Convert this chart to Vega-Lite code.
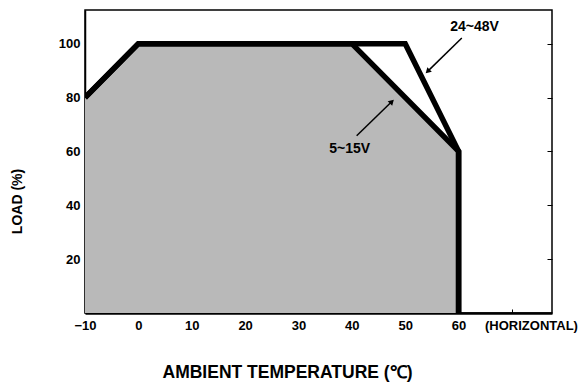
{
  "$schema": "https://vega.github.io/schema/vega-lite/v6.json",
  "width": 467,
  "height": 303,
  "autosize": {"type": "none"},
  "padding": {"left": 85, "top": 10, "right": 27, "bottom": 74},
  "background": "white",
  "config": {
    "view": {"stroke": "black", "strokeWidth": 1.5},
    "font": "Liberation Sans"
  },
  "datasets": {
    "curves": [
      {"series": "24~48V", "ord": 1, "t": -10, "load": 80},
      {"series": "24~48V", "ord": 2, "t": 0, "load": 100},
      {"series": "24~48V", "ord": 3, "t": 50, "load": 100},
      {"series": "24~48V", "ord": 4, "t": 60, "load": 60},
      {"series": "24~48V", "ord": 5, "t": 60, "load": 0},
      {"series": "5~15V", "ord": 1, "t": -10, "load": 80},
      {"series": "5~15V", "ord": 2, "t": 0, "load": 100},
      {"series": "5~15V", "ord": 3, "t": 40, "load": 100},
      {"series": "5~15V", "ord": 4, "t": 60, "load": 60},
      {"series": "5~15V", "ord": 5, "t": 60, "load": 0}
    ],
    "labels": [
      {"text": "24~48V", "t": 63.0, "load": 106.2},
      {"text": "5~15V", "t": 39.6, "load": 60.9}
    ],
    "arrows": [
      {"series": "24~48V", "t": 60.6, "load": 102.1, "t2": 54.2, "load2": 89.7},
      {"series": "5~15V", "t": 40.9, "load": 65.8, "t2": 47.5, "load2": 78.5}
    ]
  },
  "resolve": {"axis": {"x": "independent", "y": "independent"}},
  "layer": [
    {
      "data": {"name": "curves"},
      "transform": [{"filter": "datum.series == '5~15V' && datum.ord <= 4"}],
      "mark": {"type": "area", "color": "#b9b9b9", "clip": true},
      "encoding": {
        "x": {
          "field": "t", "type": "quantitative",
          "scale": {"domain": [-10, 77.5], "nice": false, "zero": false},
          "axis": {
            "values": [-10, 0, 10, 20, 30, 40, 50, 60, 70],
            "labelExpr": "datum.value == 70 ? '(HORIZONTAL)' : datum.label",
            "labelFont": "Liberation Sans", "labelFontWeight": "bold", "labelFontSize": 13, "labelColor": "black",
            "labelPadding": 6,
            "labelOffset": {"condition": {"test": "datum.value == 70", "value": 19}, "value": 0},
            "ticks": false,
            "labelOverlap": false,
            "labelFlush": false,
            "domainColor": "black", "domainWidth": 2.5,
            "grid": false,
            "title": "AMBIENT TEMPERATURE (\u2103)",
            "titleFont": "Liberation Sans", "titleFontSize": 17.5, "titleFontWeight": "bold", "titleColor": "black",
            "titleX": 202, "titleY": 59, "titleBaseline": "middle", "titleAlign": "center"
          }
        },
        "y": {
          "field": "load", "type": "quantitative",
          "scale": {"domain": [0, 112.5], "nice": false},
          "axis": {
            "values": [20, 40, 60, 80, 100],
            "labelFont": "Liberation Sans", "labelFontWeight": "bold", "labelFontSize": 13, "labelColor": "black",
            "labelPadding": 5,
            "ticks": false,
            "domainColor": "black", "domainWidth": 1.5,
            "grid": false,
            "title": "LOAD (%)",
            "titleFont": "Liberation Sans", "titleFontSize": 14, "titleFontWeight": "bold", "titleColor": "black",
            "titleAngle": 270, "titleX": -68, "titleY": 191, "titleBaseline": "middle", "titleAlign": "center"
          }
        }
      }
    },
    {
      "data": {"name": "curves"},
      "mark": {"type": "line", "color": "black", "strokeWidth": 5.5, "strokeJoin": "miter", "clip": true},
      "encoding": {
        "x": {"field": "t", "type": "quantitative",
          "axis": {"orient": "bottom", "values": [0, 10, 20, 30, 40, 50, 70], "labels": false, "domain": false, "grid": false, "title": null, "tickSize": -4, "tickColor": "black", "tickWidth": 1}},
        "y": {"field": "load", "type": "quantitative",
          "axis": {"orient": "right", "values": [20, 40, 60, 80, 100], "labels": false, "domain": false, "grid": false, "title": null, "tickSize": -5, "tickColor": "black", "tickWidth": 1}},
        "detail": {"field": "series"},
        "order": {"field": "ord"}
      }
    },
    {
      "data": {"name": "arrows"},
      "mark": {"type": "rule", "color": "black", "strokeWidth": 1.5},
      "encoding": {
        "x": {"field": "t", "type": "quantitative", "axis": null},
        "y": {"field": "load", "type": "quantitative", "axis": null},
        "x2": {"field": "t2"},
        "y2": {"field": "load2"}
      }
    },
    {
      "data": {"name": "arrows"},
      "transform": [{"filter": "datum.series == '24~48V'"}],
      "mark": {"type": "point", "shape": "triangle-up", "filled": true, "color": "black", "size": 40, "angle": 225, "opacity": 1},
      "encoding": {
        "x": {"field": "t2", "type": "quantitative", "axis": null},
        "y": {"field": "load2", "type": "quantitative", "axis": null}
      }
    },
    {
      "data": {"name": "arrows"},
      "transform": [{"filter": "datum.series == '5~15V'"}],
      "mark": {"type": "point", "shape": "triangle-up", "filled": true, "color": "black", "size": 40, "angle": 45, "opacity": 1},
      "encoding": {
        "x": {"field": "t2", "type": "quantitative", "axis": null},
        "y": {"field": "load2", "type": "quantitative", "axis": null}
      }
    },
    {
      "data": {"name": "labels"},
      "mark": {"type": "text", "font": "Liberation Sans", "fontWeight": "bold", "fontSize": 14, "color": "black", "align": "center", "baseline": "middle"},
      "encoding": {
        "x": {"field": "t", "type": "quantitative", "axis": null},
        "y": {"field": "load", "type": "quantitative", "axis": null},
        "text": {"field": "text"}
      }
    }
  ]
}
